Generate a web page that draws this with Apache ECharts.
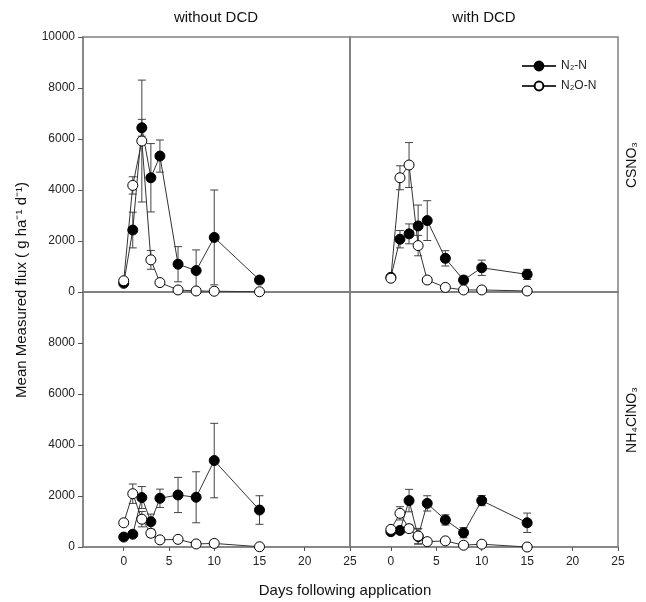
<!DOCTYPE html>
<html><head><meta charset="utf-8">
<script src="https://cdn.jsdelivr.net/npm/echarts@6/dist/echarts.min.js"></script>
<style>html,body{margin:0;padding:0;background:#fff}#c{width:646px;height:602px}</style>
</head><body><div id="c"></div>
<script>
const days = [0, 1, 2, 3, 4, 6, 8, 10, 15];
const xTicks = [0, 5, 10, 15, 20, 25];
const yTicksTop = [0, 2000, 4000, 6000, 8000, 10000];
const yTicksBottom = [0, 2000, 4000, 6000, 8000];
const colTitles = ['without DCD', 'with DCD'];
const rowTitles = ['CSNO₃', 'NH₄ClNO₃'];
const seriesNames = ['N₂-N', 'N₂O-N'];

// without DCD, CSNO3
const n2_noDCD_CS = [340, 2430, 6440, 4480, 5330, 1090, 840, 2140, 470];
const n2_noDCD_CS_err = [80, 700, 330, 1340, 630, 690, 810, 1860, 120];
const n2o_noDCD_CS = [440, 4180, 5920, 1260, 370, 80, 40, 30, 10];
const n2o_noDCD_CS_err = [60, 340, 2390, 370, 120, 30, 20, 20, 10];
// with DCD, CSNO3
const n2_DCD_CS = [575, 2070, 2280, 2590, 2800, 1320, 470, 950, 690];
const n2_DCD_CS_err = [100, 340, 390, 820, 780, 300, 150, 300, 200];
const n2o_DCD_CS = [540, 4480, 4980, 1820, 470, 180, 80, 80, 40];
const n2o_DCD_CS_err = [60, 470, 880, 400, 80, 40, 20, 20, 10];
// without DCD, NH4ClNO3
const n2_noDCD_NH = [390, 500, 1940, 990, 1910, 2040, 1950, 3390, 1450];
const n2_noDCD_NH_err = [60, 100, 430, 300, 360, 690, 1000, 1460, 560];
const n2o_noDCD_NH = [950, 2090, 1090, 540, 280, 300, 120, 140, 10];
const n2o_noDCD_NH_err = [100, 380, 300, 150, 60, 50, 30, 30, 10];
// with DCD, NH4ClNO3
const n2_DCD_NH = [600, 650, 1820, 410, 1710, 1060, 560, 1820, 950];
const n2_DCD_NH_err = [80, 120, 440, 300, 300, 200, 200, 200, 380];
const n2o_DCD_NH = [690, 1320, 720, 430, 210, 240, 70, 110, 0];
const n2o_DCD_NH_err = [80, 260, 150, 300, 40, 40, 20, 20, 10];

const panels = [
  {n2: n2_noDCD_CS, n2e: n2_noDCD_CS_err, n2o: n2o_noDCD_CS, n2oe: n2o_noDCD_CS_err},
  {n2: n2_DCD_CS, n2e: n2_DCD_CS_err, n2o: n2o_DCD_CS, n2oe: n2o_DCD_CS_err},
  {n2: n2_noDCD_NH, n2e: n2_noDCD_NH_err, n2o: n2o_noDCD_NH, n2oe: n2o_noDCD_NH_err},
  {n2: n2_DCD_NH, n2e: n2_DCD_NH_err, n2o: n2o_DCD_NH, n2oe: n2o_DCD_NH_err}
];

const FONT = 'Liberation Sans, Arial, sans-serif';
const AX = '#808080';
const grids = [
  {left: 83, top: 37, width: 267, height: 255},
  {left: 350, top: 37, width: 268, height: 255},
  {left: 83, top: 292, width: 267, height: 255},
  {left: 350, top: 292, width: 268, height: 255}
].map(g => Object.assign(g, {show: true, borderColor: AX, borderWidth: 1.5, backgroundColor: 'transparent'}));

const xAxes = grids.map((g, i) => ({
  type: 'value', gridIndex: i, min: -4.5, max: 25,
  axisLine: {show: true, onZero: false, lineStyle: {color: AX, width: 1.5}},
  axisTick: {show: i >= 2, length: 4, lineStyle: {color: '#555'}, customValues: xTicks},
  axisLabel: {show: i >= 2, customValues: xTicks, color: '#222', fontFamily: FONT, fontSize: 12, margin: 9,
    formatter: v => String(v)},
  splitLine: {show: false}
}));
const yAxes = grids.map((g, i) => ({
  type: 'value', gridIndex: i, min: 0, max: 10000,
  axisLine: {show: true, onZero: false, lineStyle: {color: AX, width: 1.5}},
  axisTick: {show: i % 2 === 0, length: 5, lineStyle: {color: '#555'}, customValues: i < 2 ? yTicksTop : yTicksBottom},
  axisLabel: {show: i % 2 === 0, customValues: i < 2 ? yTicksTop : yTicksBottom, color: '#222', fontFamily: FONT, fontSize: 12, margin: 8,
    formatter: v => String(v)},
  splitLine: {show: false}
}));

function errSeries(i, vals, errs) {
  return {
    type: 'custom', xAxisIndex: i, yAxisIndex: i, z: 1, silent: true, clip: false,
    data: days.map((d, k) => [d, vals[k], errs[k]]),
    encode: {x: 0, y: 1},
    renderItem: function (params, api) {
      const x = api.value(0), y = api.value(1), e = api.value(2);
      const top = api.coord([x, y + e]);
      const bot = api.coord([x, Math.max(0, y - e)]);
      const st = {stroke: '#444', lineWidth: 1};
      return {type: 'group', children: [
        {type: 'line', shape: {x1: top[0], y1: top[1], x2: bot[0], y2: bot[1]}, style: st},
        {type: 'line', shape: {x1: top[0] - 4, y1: top[1], x2: top[0] + 4, y2: top[1]}, style: st},
        {type: 'line', shape: {x1: bot[0] - 4, y1: bot[1], x2: bot[0] + 4, y2: bot[1]}, style: st}
      ]};
    }
  };
}
function lineSeries(i, name, vals, filled) {
  return {
    type: 'line', name: name, xAxisIndex: i, yAxisIndex: i, z: 3, clip: false,
    data: days.map((d, k) => [d, vals[k]]),
    symbol: 'circle', symbolSize: 10, showAllSymbol: true,
    lineStyle: {color: '#333', width: 1},
    itemStyle: {color: filled ? '#000' : '#fff', borderColor: '#000', borderWidth: 1},
    emphasis: {disabled: true}, animation: false
  };
}
const series = [];
panels.forEach((p, i) => {
  series.push(errSeries(i, p.n2, p.n2e));
  series.push(errSeries(i, p.n2o, p.n2oe));
  series.push(lineSeries(i, seriesNames[0], p.n2, true));
  series.push(lineSeries(i, seriesNames[1], p.n2o, false));
});

const txt = (x, y, text, size, rot) => ({
  type: 'text', x: x, y: y, rotation: rot || 0,
  style: {text: text, font: size + 'px ' + FONT, fill: '#111', align: 'center', verticalAlign: 'middle'}
});

const option = {
  animation: false,
  grid: grids, xAxis: xAxes, yAxis: yAxes, series: series,
  legend: {
    data: seriesNames, orient: 'vertical', left: 516, top: 55, itemWidth: 34, itemHeight: 11, itemGap: 8,
    textStyle: {fontFamily: FONT, fontSize: 12, color: '#222'}, selectedMode: false
  },
  graphic: [
    txt(216, 18, colTitles[0], 15),
    txt(484, 18, colTitles[1], 15),
    txt(632, 165, rowTitles[0], 14, Math.PI / 2),
    txt(632, 420, rowTitles[1], 14, Math.PI / 2),
    txt(22, 290, 'Mean Measured flux ( g ha⁻¹ d⁻¹)', 15, Math.PI / 2),
    txt(345, 591, 'Days following application', 15)
  ]
};
echarts.init(document.getElementById('c')).setOption(option);
</script></body></html>
